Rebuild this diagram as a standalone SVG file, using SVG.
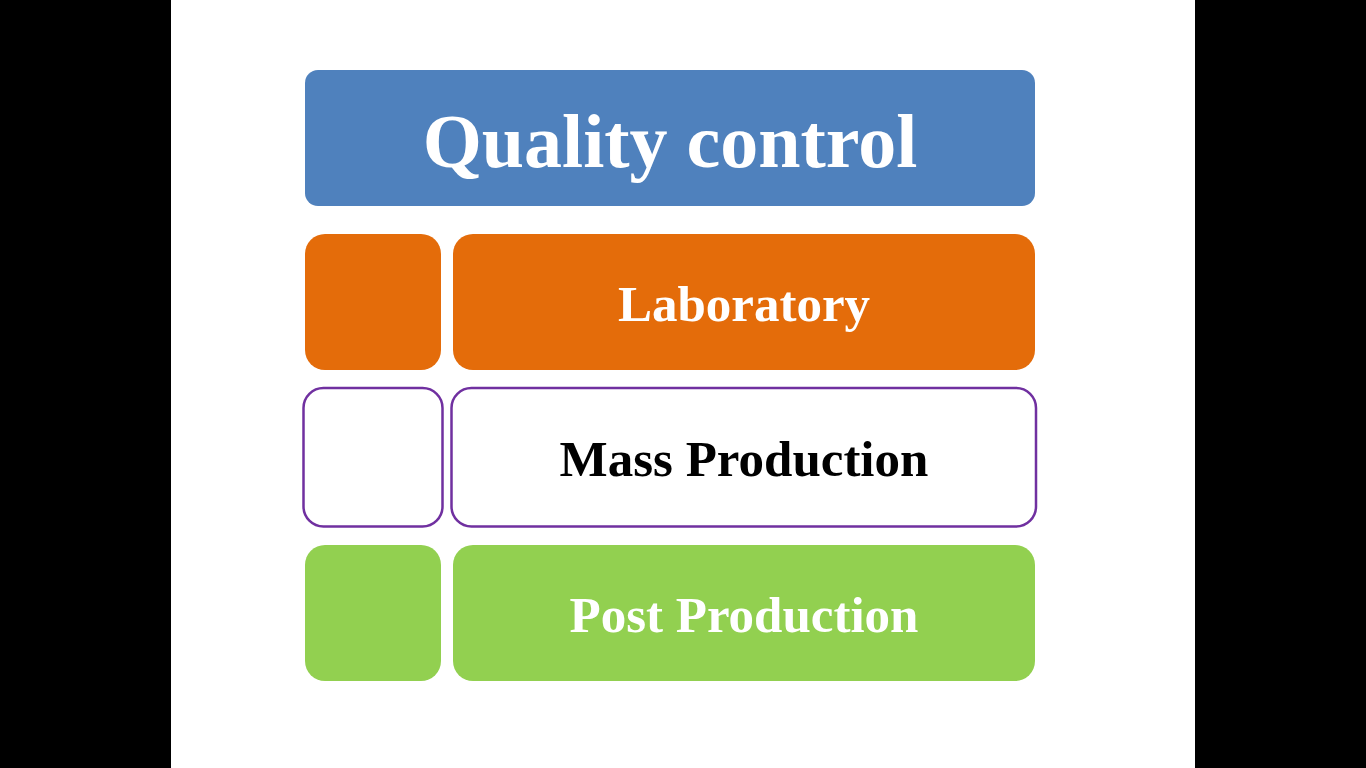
<svg xmlns="http://www.w3.org/2000/svg" width="1366" height="768" viewBox="0 0 1366 768">
<style>
.lbl{font-family:"Liberation Serif","Times New Roman",serif;font-weight:bold;text-anchor:middle}
.w{fill:#FFFFFF}
.k{fill:#000000}
.out{fill:#FFFFFF;stroke:#7030A0;stroke-width:2.5}
</style>
<rect x="0" y="0" width="1366" height="768" fill="#000000"/>
<rect x="171" y="0" width="1024" height="768" fill="#FFFFFF"/>
<g id="quality-control">
<rect x="305" y="70" width="730" height="136" rx="13" fill="#4F81BD"/>
<text class="lbl w" x="670" y="167" font-size="76">Quality control</text>
</g>
<g id="laboratory-marker">
<rect x="305" y="234" width="136" height="136" rx="20" fill="#E46C0A"/>
</g>
<g id="laboratory">
<rect x="453" y="234" width="582" height="136" rx="20" fill="#E46C0A"/>
<text class="lbl w" x="744" y="321" font-size="51">Laboratory</text>
</g>
<g id="mass-production-marker">
<rect class="out" x="303.5" y="388" width="139" height="138.5" rx="20"/>
</g>
<g id="mass-production">
<rect class="out" x="451.5" y="388" width="584.5" height="138.5" rx="20"/>
<text class="lbl k" x="744" y="476" font-size="51">Mass Production</text>
</g>
<g id="post-production-marker">
<rect x="305" y="545" width="136" height="136" rx="20" fill="#92D050"/>
</g>
<g id="post-production">
<rect x="453" y="545" width="582" height="136" rx="20" fill="#92D050"/>
<text class="lbl w" x="744" y="632" font-size="51">Post Production</text>
</g>
<g id="connectors"></g>
</svg>
